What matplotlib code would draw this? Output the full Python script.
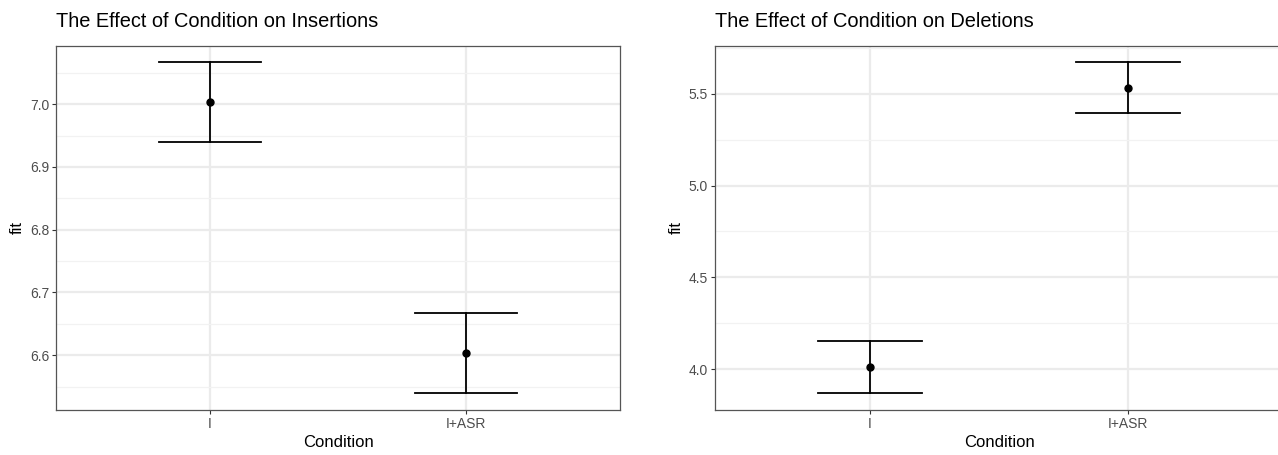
import matplotlib
matplotlib.use("Agg")
import matplotlib.pyplot as plt
from matplotlib.ticker import MultipleLocator

plt.rcParams['font.family'] = ['Liberation Sans', 'DejaVu Sans']

# Data
conditions = ["I", "I+ASR"]
ins_fit = [7.003, 6.603]
ins_lower = [6.939, 6.539]
ins_upper = [7.067, 6.667]

del_fit = [4.01, 5.532]
del_lower = [3.868, 5.395]
del_upper = [4.152, 5.672]

ins_ticks = [6.6, 6.7, 6.8, 6.9, 7.0]
del_ticks = [4.0, 4.5, 5.0, 5.5]

fig = plt.figure(figsize=(12.78, 4.55), dpi=100)
ax1 = fig.add_axes([0.0442, 0.0989, 0.4406, 0.801])
ax2 = fig.add_axes([0.5595, 0.0989, 0.4444, 0.801])


def draw_panel(ax, fit, lower, upper, ticks, minor, title):
    x = range(1, len(conditions) + 1)
    for xi, f, lo, hi in zip(x, fit, lower, upper):
        ax.plot([xi, xi], [lo, hi], color='black', lw=1.3, zorder=3)
        ax.plot([xi - 0.2, xi + 0.2], [lo, lo], color='black', lw=1.3, zorder=3)
        ax.plot([xi - 0.2, xi + 0.2], [hi, hi], color='black', lw=1.3, zorder=3)
        ax.plot(xi, f, 'o', color='black', ms=5, zorder=4)
    ax.set_xlim(0.4, len(conditions) + 0.6)
    span = max(upper) - min(lower)
    ax.set_ylim(min(lower) - 0.05 * span, max(upper) + 0.05 * span)
    ax.set_xticks(list(x))
    ax.set_xticklabels(conditions)
    ax.set_yticks(ticks)
    ax.set_yticklabels([f"{t:.1f}" for t in ticks])
    ax.yaxis.set_minor_locator(MultipleLocator(minor))
    ax.grid(True, which='major', color='#EBEBEB', lw=1.6, zorder=0)
    ax.grid(True, which='minor', axis='y', color='#F2F2F2', lw=0.9, zorder=0)
    ax.set_axisbelow(True)
    ax.tick_params(which='major', length=3, width=0.8, color='#333333',
                   labelcolor='#4D4D4D', labelsize=10, pad=2)
    ax.tick_params(which='minor', length=0)
    for s in ax.spines.values():
        s.set_color('#555555')
        s.set_linewidth(0.9)
    ax.set_xlabel("Condition", fontsize=12, labelpad=3)
    ax.set_ylabel("fit", fontsize=12, labelpad=4)
    ax.set_title(title, loc='left', fontsize=14.4, pad=13)


draw_panel(ax1, ins_fit, ins_lower, ins_upper, ins_ticks, 0.05,
           "The Effect of Condition on Insertions")
draw_panel(ax2, del_fit, del_lower, del_upper, del_ticks, 0.25,
           "The Effect of Condition on Deletions")

fig.savefig("out.png", dpi=100)
